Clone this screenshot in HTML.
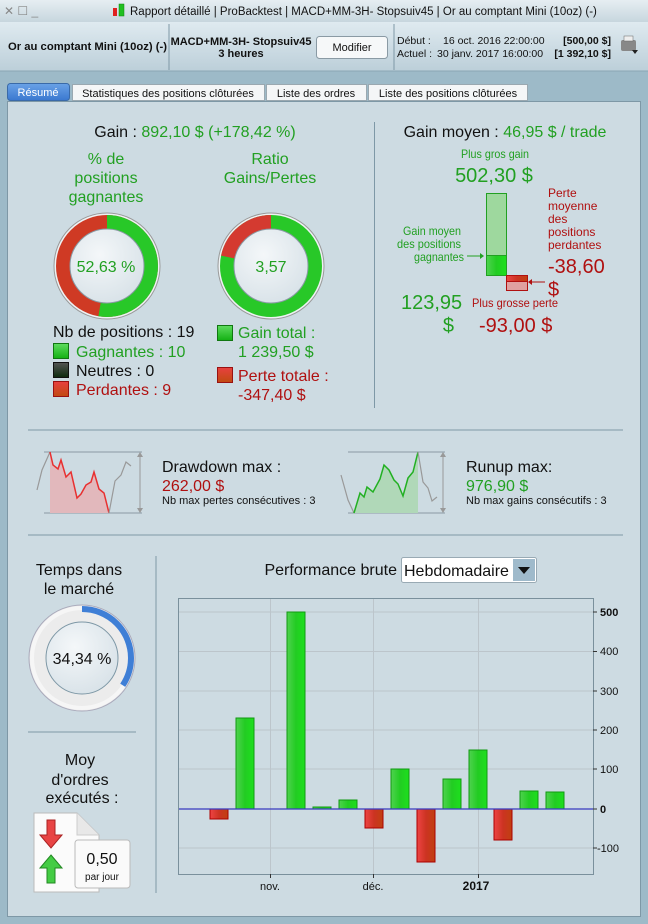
<!DOCTYPE html>
<html><head><meta charset="utf-8"><style>
body{margin:0;width:648px;height:924px;overflow:hidden;background:#9dbac8;font-family:"Liberation Sans",sans-serif}
svg{display:block}
</style></head><body>
<svg width="648" height="924" xmlns="http://www.w3.org/2000/svg" font-family="Liberation Sans, sans-serif">
<defs>
<linearGradient id="tb" x1="0" y1="0" x2="0" y2="1"><stop offset="0" stop-color="#e6eef2"/><stop offset="1" stop-color="#c7d6de"/></linearGradient>
<linearGradient id="hb" x1="0" y1="0" x2="0" y2="1"><stop offset="0" stop-color="#dfeaf0"/><stop offset="1" stop-color="#bccfd9"/></linearGradient>
<linearGradient id="gb" x1="0" y1="0" x2="1" y2="0"><stop offset="0" stop-color="#4fd24f"/><stop offset="0.5" stop-color="#22cc22"/><stop offset="1" stop-color="#1ee01e"/></linearGradient>
<linearGradient id="rb" x1="0" y1="0" x2="1" y2="0"><stop offset="0" stop-color="#ee4444"/><stop offset="0.5" stop-color="#cc3322"/><stop offset="1" stop-color="#c04010"/></linearGradient>
<linearGradient id="tab" x1="0" y1="0" x2="0" y2="1"><stop offset="0" stop-color="#6aa2e6"/><stop offset="1" stop-color="#3a78d0"/></linearGradient>
<radialGradient id="inner" cx="0.4" cy="0.35" r="0.7"><stop offset="0" stop-color="#f4f7f9"/><stop offset="1" stop-color="#d8e2e8"/></radialGradient>
<linearGradient id="sq_g" x1="0" y1="0" x2="0" y2="1"><stop offset="0" stop-color="#5fdc5f"/><stop offset="1" stop-color="#13b013"/></linearGradient>
<linearGradient id="sq_r" x1="0" y1="0" x2="0" y2="1"><stop offset="0" stop-color="#e84040"/><stop offset="1" stop-color="#c04a10"/></linearGradient>
<linearGradient id="sq_k" x1="0" y1="0" x2="0" y2="1"><stop offset="0" stop-color="#555"/><stop offset="1" stop-color="#0d2a0d"/></linearGradient>
</defs>
<!-- title bar -->
<rect x="0" y="0" width="648" height="22" fill="url(#tb)"/>
<text x="4" y="15" font-size="12" fill="#888">✕ ☐ _</text>
<rect x="113" y="8" width="4" height="8" fill="#e02020"/><rect x="119" y="4" width="5" height="12" fill="#20c020" stroke="#108010" stroke-width="0.5"/>
<text x="130" y="15" font-size="11.5" fill="#111">Rapport détaillé | ProBacktest | MACD+MM-3H- Stopsuiv45 | Or au comptant Mini (10oz) (-)</text>
<!-- header -->
<rect x="0" y="22" width="648" height="49" fill="url(#hb)"/>
<line x1="0" y1="71" x2="648" y2="71" fill="none" stroke="#8aa6b4"/>
<line x1="169" y1="24" x2="169" y2="70" stroke="#7e98a6"/>
<line x1="394" y1="24" x2="394" y2="70" stroke="#7e98a6"/>
<text x="8" y="50" font-size="11" font-weight="bold" fill="#111" textLength="159" lengthAdjust="spacingAndGlyphs">Or au comptant Mini (10oz) (-)</text>
<text x="241" y="45" font-size="11" font-weight="bold" fill="#111" text-anchor="middle">MACD+MM-3H- Stopsuiv45</text>
<text x="241" y="57" font-size="11" font-weight="bold" fill="#111" text-anchor="middle">3 heures</text>
<rect x="316.5" y="36.5" width="71" height="22" rx="3" fill="#f6f8f9" stroke="#8a9aa4"/>
<text x="352" y="51" font-size="11" fill="#111" text-anchor="middle">Modifier</text>
<text x="397" y="44" font-size="10.5" fill="#111">Début :</text>
<text x="397" y="57" font-size="10.5" fill="#111">Actuel :</text>
<text x="443" y="44" font-size="10.5" fill="#111">16 oct. 2016 22:00:00</text>
<text x="437" y="57" font-size="10.5" fill="#111">30 janv. 2017 16:00:00</text>
<text x="611" y="44" font-size="10.5" font-weight="bold" fill="#111" text-anchor="end">[500,00 $]</text>
<text x="611" y="57" font-size="10.5" font-weight="bold" fill="#111" text-anchor="end">[1 392,10 $]</text>
<rect x="621" y="40" width="15" height="11" rx="2" fill="#888"/><rect x="624" y="36" width="9" height="5" fill="#eee" stroke="#666" stroke-width="0.5"/><path d="M632 50 l6 0 l-3 4z" fill="#222"/>
<!-- tabs -->
<rect x="7.5" y="83.5" width="62" height="17" rx="3" fill="url(#tab)" stroke="#3a6aa8"/>
<text x="38" y="96" font-size="11" fill="#fff" text-anchor="middle">Résumé</text>
<rect x="72.5" y="84.5" width="192" height="16" fill="#f4f6f7" stroke="#9aa8b0"/>
<text x="168" y="97" font-size="11" fill="#111" text-anchor="middle">Statistiques des positions clôturées</text>
<rect x="266.5" y="84.5" width="100" height="16" fill="#f4f6f7" stroke="#9aa8b0"/>
<text x="316" y="97" font-size="11" fill="#111" text-anchor="middle">Liste des ordres</text>
<rect x="368.5" y="84.5" width="159" height="16" fill="#f4f6f7" stroke="#9aa8b0"/>
<text x="448" y="97" font-size="11" fill="#111" text-anchor="middle">Liste des positions clôturées</text>
<!-- main panel -->
<rect x="7.5" y="101.5" width="633" height="815" fill="#cddbe2" stroke="#7e98a6"/>
<!-- top section -->
<text x="195" y="137" font-size="16" text-anchor="middle" fill="#111">Gain : <tspan fill="#22a022">892,10 $ (+178,42 %)</tspan></text>
<g font-size="16" fill="#22a022" text-anchor="middle">
<text x="106" y="164">% de</text><text x="106" y="183">positions</text><text x="106" y="202">gagnantes</text>
<text x="270" y="164">Ratio</text><text x="270" y="183">Gains/Pertes</text>
</g>
<!-- donut 1 -->
<circle cx="107" cy="266" r="53" fill="#eef2f4" stroke="#999" stroke-width="1"/>
<g transform="rotate(-90 107 266)">
<circle cx="107" cy="266" r="44" fill="none" stroke="#cf3a24" stroke-width="14"/>
<circle cx="107" cy="266" r="44" fill="none" stroke="#28c828" stroke-width="14" stroke-dasharray="145.5 400"/>
</g>
<circle cx="107" cy="266" r="37" fill="url(#inner)" stroke="#8a9aa4"/>
<text x="106" y="272" font-size="16" fill="#22a022" text-anchor="middle">52,63 %</text>
<!-- donut 2 -->
<circle cx="271" cy="266" r="53" fill="#eef2f4" stroke="#999" stroke-width="1"/>
<g transform="rotate(-90 271 266)">
<circle cx="271" cy="266" r="44" fill="none" stroke="#28c828" stroke-width="14"/>
<circle cx="271" cy="266" r="44" fill="none" stroke="#d43a30" stroke-width="14" stroke-dasharray="0 216 60.5 100"/>
</g>
<circle cx="271" cy="266" r="37" fill="url(#inner)" stroke="#8a9aa4"/>
<text x="271" y="272" font-size="16" fill="#22a022" text-anchor="middle">3,57</text>
<!-- legend -->
<text x="53" y="337" font-size="16" fill="#111">Nb de positions : 19</text>
<rect x="53.5" y="343.5" width="15" height="15" fill="url(#sq_g)" stroke="#117711"/><text x="76" y="357" font-size="16" fill="#22a022">Gagnantes : 10</text>
<rect x="53.5" y="362.5" width="15" height="15" fill="url(#sq_k)" stroke="#111"/><text x="76" y="376" font-size="16" fill="#111">Neutres : 0</text>
<rect x="53.5" y="381.5" width="15" height="15" fill="url(#sq_r)" stroke="#991111"/><text x="76" y="395" font-size="16" fill="#b01010">Perdantes : 9</text>
<rect x="217.5" y="325.5" width="15" height="15" fill="url(#sq_g)" stroke="#117711"/><text x="238" y="338" font-size="16" fill="#22a022">Gain total :</text>
<text x="238" y="357" font-size="16" fill="#22a022">1 239,50 $</text>
<rect x="217.5" y="367.5" width="15" height="15" fill="url(#sq_r)" stroke="#991111"/><text x="238" y="381" font-size="16" fill="#b01010">Perte totale :</text>
<text x="238" y="400" font-size="16" fill="#b01010">-347,40 $</text>
<line x1="374.5" y1="122" x2="374.5" y2="408" stroke="#7e98a6"/>
<!-- right top -->
<text x="505" y="137" font-size="16" text-anchor="middle" fill="#111">Gain moyen : <tspan fill="#22a022">46,95 $ / trade</tspan></text>
<text x="495" y="158" font-size="12" fill="#22a022" text-anchor="middle" textLength="68" lengthAdjust="spacingAndGlyphs">Plus gros gain</text>
<text x="494" y="182" font-size="20" fill="#22a022" text-anchor="middle">502,30 $</text>
<rect x="486.5" y="193.5" width="20" height="62" fill="#9ed89e" stroke="#22a022"/>
<rect x="486.5" y="255.5" width="20" height="20" fill="url(#gb)" stroke="#22a022"/>
<rect x="506.5" y="275.5" width="21" height="15" fill="#e0a0a0" stroke="#b01010"/>
<rect x="506.5" y="275.5" width="21" height="6" fill="url(#rb)" stroke="#b01010"/>
<g font-size="12" fill="#22a022" text-anchor="end"><text x="461" y="235" textLength="58" lengthAdjust="spacingAndGlyphs">Gain moyen</text><text x="461" y="248" textLength="64" lengthAdjust="spacingAndGlyphs">des positions</text><text x="464" y="261" textLength="50" lengthAdjust="spacingAndGlyphs">gagnantes</text></g>
<line x1="467" y1="256" x2="482" y2="256" stroke="#22a022"/><path d="M484 256 l-4 -3 v6z" fill="#22a022"/>
<g font-size="12" fill="#b01010"><text x="548" y="197">Perte</text><text x="548" y="210">moyenne</text><text x="548" y="223">des</text><text x="548" y="236">positions</text><text x="548" y="249">perdantes</text></g>
<text x="548" y="273" font-size="20" fill="#b01010">-38,60</text>
<text x="548" y="296" font-size="20" fill="#b01010">$</text>
<line x1="530" y1="282" x2="545" y2="282" stroke="#b01010"/><path d="M528 282 l4 -3 v6z" fill="#b01010"/>
<text x="401" y="309" font-size="20" fill="#22a022">123,95</text>
<text x="454" y="332" font-size="20" fill="#22a022" text-anchor="end">$</text>
<text x="472" y="307" font-size="12" fill="#b01010" textLength="86" lengthAdjust="spacingAndGlyphs">Plus grosse perte</text>
<text x="479" y="332" font-size="20" fill="#b01010">-93,00 $</text>
<!-- separators -->
<line x1="28" y1="430" x2="623" y2="430" stroke="#7e98a6"/>
<line x1="28" y1="535" x2="623" y2="535" stroke="#7e98a6"/>
<!-- drawdown chart -->
<line x1="44" y1="452" x2="142" y2="452" stroke="#8a9aa4"/><line x1="44" y1="513" x2="142" y2="513" stroke="#8a9aa4"/>
<line x1="140" y1="454" x2="140" y2="511" stroke="#999"/><path d="M140 452 l-3 5 h6z M140 513 l-3 -5 h6z" fill="#999"/>
<path d="M50 452 L53 465 L58 469 L61 460 L66 477 L71 472 L77 498 L81 494 L86 485 L91 482 L94 472 L99 489 L104 493 L109 513 L50 513Z" fill="#e2b8bc"/>
<polyline points="37,490 42,470 50,452" fill="none" stroke="#999" stroke-width="1.2"/>
<polyline points="50,452 53,465 58,469 61,460 66,477 71,472 77,498 81,494 86,485 91,482 94,472 99,489 104,493 109,513" fill="none" stroke="#e83030" stroke-width="1.5"/>
<polyline points="109,513 115,481 121,475 126,462 131,466" fill="none" stroke="#999" stroke-width="1.2"/>
<text x="162" y="472" font-size="16" fill="#111">Drawdown max :</text>
<text x="162" y="491" font-size="16" fill="#b01010">262,00 $</text>
<text x="162" y="504" font-size="11" fill="#111">Nb max pertes consécutives : 3</text>
<!-- runup chart -->
<line x1="348" y1="452" x2="445" y2="452" stroke="#8a9aa4"/><line x1="348" y1="513" x2="445" y2="513" stroke="#8a9aa4"/>
<line x1="443" y1="454" x2="443" y2="511" stroke="#999"/><path d="M443 452 l-3 5 h6z M443 513 l-3 -5 h6z" fill="#999"/>
<path d="M354 513 L360 493 L364 497 L367 487 L373 492 L380 479 L384 465 L389 470 L394 480 L398 484 L403 496 L408 478 L413 472 L418 452 L418 513Z" fill="#b0d8b8"/>
<polyline points="341,475 348,500 354,513" fill="none" stroke="#999" stroke-width="1.2"/>
<polyline points="354,513 360,493 364,497 367,487 373,492 380,479 384,465 389,470 394,480 398,484 403,496 408,478 413,472 418,452" fill="none" stroke="#22b022" stroke-width="1.5"/>
<polyline points="418,452 423,482 428,488 432,501 437,497" fill="none" stroke="#999" stroke-width="1.2"/>
<text x="466" y="472" font-size="16" fill="#111">Runup max:</text>
<text x="466" y="491" font-size="16" fill="#22a022">976,90 $</text>
<text x="466" y="504" font-size="11" fill="#111">Nb max gains consécutifs : 3</text>
<!-- bottom left -->
<text x="79" y="575" font-size="16" fill="#111" text-anchor="middle">Temps dans</text>
<text x="79" y="594" font-size="16" fill="#111" text-anchor="middle">le marché</text>
<circle cx="82" cy="658" r="53" fill="#ececec" stroke="#aab" stroke-width="1"/>
<circle cx="82" cy="658" r="50" fill="none" stroke="#f6f6f6" stroke-width="4"/>
<g transform="rotate(-90 82 658)"><circle cx="82" cy="658" r="49" fill="none" stroke="#3f7fd6" stroke-width="6" stroke-dasharray="105.7 400"/></g>
<circle cx="82" cy="658" r="36" fill="url(#inner)" stroke="#7e98a6"/>
<text x="82" y="664" font-size="16" fill="#111" text-anchor="middle">34,34 %</text>
<line x1="28" y1="732" x2="136" y2="732" stroke="#7e98a6"/>
<line x1="156" y1="556" x2="156" y2="893" stroke="#7e98a6"/>
<g font-size="16" fill="#111" text-anchor="middle"><text x="80" y="765">Moy</text><text x="80" y="785">d'ordres</text><text x="82" y="803">exécutés :</text></g>
<path d="M34 813 H77 L99 835 V892 H34Z" fill="#fbfbfb" stroke="#bbb"/>
<path d="M77 813 V835 H99" fill="#e8e8e8" stroke="#ccc"/>
<path d="M47 820 h8 v15 h7 l-11 13 l-11 -13 h7z" fill="#e84444" stroke="#aa2222"/>
<path d="M51 855 l11 13 h-7 v15 h-8 v-15 h-7z" fill="#44cc44" stroke="#228822"/>
<rect x="75" y="840" width="55" height="48" rx="3" fill="#fafafa" stroke="#bbb"/>
<text x="102" y="864" font-size="16" fill="#111" text-anchor="middle">0,50</text>
<text x="102" y="880" font-size="10" fill="#111" text-anchor="middle">par jour</text>
<!-- perf header -->
<text x="397" y="575" font-size="16" fill="#111" text-anchor="end">Performance brute</text>
<rect x="401.5" y="557.5" width="135" height="25" rx="2" fill="#fff" stroke="#99aab4"/>
<text x="404" y="576" font-size="16" fill="#111">Hebdomadaire</text>
<rect x="513" y="559" width="22" height="22" fill="#9fbacb"/>
<path d="M518 567 h12 l-6 7z" fill="#111"/>
<!-- chart -->
<rect x="178.5" y="598.5" width="415" height="276" fill="#cddbe2" stroke="#7a909c"/>
<g stroke="#bcc5cb" stroke-width="1">
<line x1="179" y1="612" x2="593" y2="612"/><line x1="179" y1="651.5" x2="593" y2="651.5"/><line x1="179" y1="691" x2="593" y2="691"/><line x1="179" y1="730" x2="593" y2="730"/><line x1="179" y1="769" x2="593" y2="769"/><line x1="179" y1="848" x2="593" y2="848"/>
<line x1="270.5" y1="599" x2="270.5" y2="874"/><line x1="373.5" y1="599" x2="373.5" y2="874"/><line x1="478.5" y1="599" x2="478.5" y2="874"/>
</g>
<g stroke="#119911" fill="url(#gb)">
<rect x="236" y="718" width="18" height="91"/>
<rect x="287" y="612" width="18" height="197"/>
<rect x="313" y="807" width="18" height="2"/>
<rect x="339" y="800" width="18" height="9"/>
<rect x="391" y="769" width="18" height="40"/>
<rect x="443" y="779" width="18" height="30"/>
<rect x="469" y="750" width="18" height="59"/>
<rect x="520" y="791" width="18" height="18"/>
<rect x="546" y="792" width="18" height="17"/>
</g>
<g stroke="#aa0000" fill="url(#rb)">
<rect x="210" y="809" width="18" height="10"/>
<rect x="365" y="809" width="18" height="19"/>
<rect x="417" y="809" width="18" height="53"/>
<rect x="494" y="809" width="18" height="31"/>
</g>
<line x1="179" y1="809" x2="593" y2="809" stroke="#3a3ac0" stroke-width="1.2"/>
<g stroke="#333"><line x1="593" y1="612" x2="597" y2="612"/><line x1="593" y1="651.5" x2="597" y2="651.5"/><line x1="593" y1="691" x2="597" y2="691"/><line x1="593" y1="730" x2="597" y2="730"/><line x1="593" y1="769" x2="597" y2="769"/><line x1="593" y1="809" x2="597" y2="809"/><line x1="593" y1="848" x2="597" y2="848"/>
<line x1="270.5" y1="874" x2="270.5" y2="878"/><line x1="373.5" y1="874" x2="373.5" y2="878"/><line x1="478.5" y1="874" x2="478.5" y2="878"/></g>
<g font-size="11" fill="#111">
<text x="600" y="616" font-weight="bold">500</text><text x="600" y="655">400</text><text x="600" y="695">300</text><text x="600" y="734">200</text><text x="600" y="773">100</text><text x="600" y="813" font-weight="bold">0</text><text x="597" y="852">-100</text>
<text x="270" y="890" text-anchor="middle">nov.</text><text x="373" y="890" text-anchor="middle">déc.</text><text x="476" y="890" text-anchor="middle" font-weight="bold" font-size="12">2017</text>
</g>
</svg>
</body></html>
